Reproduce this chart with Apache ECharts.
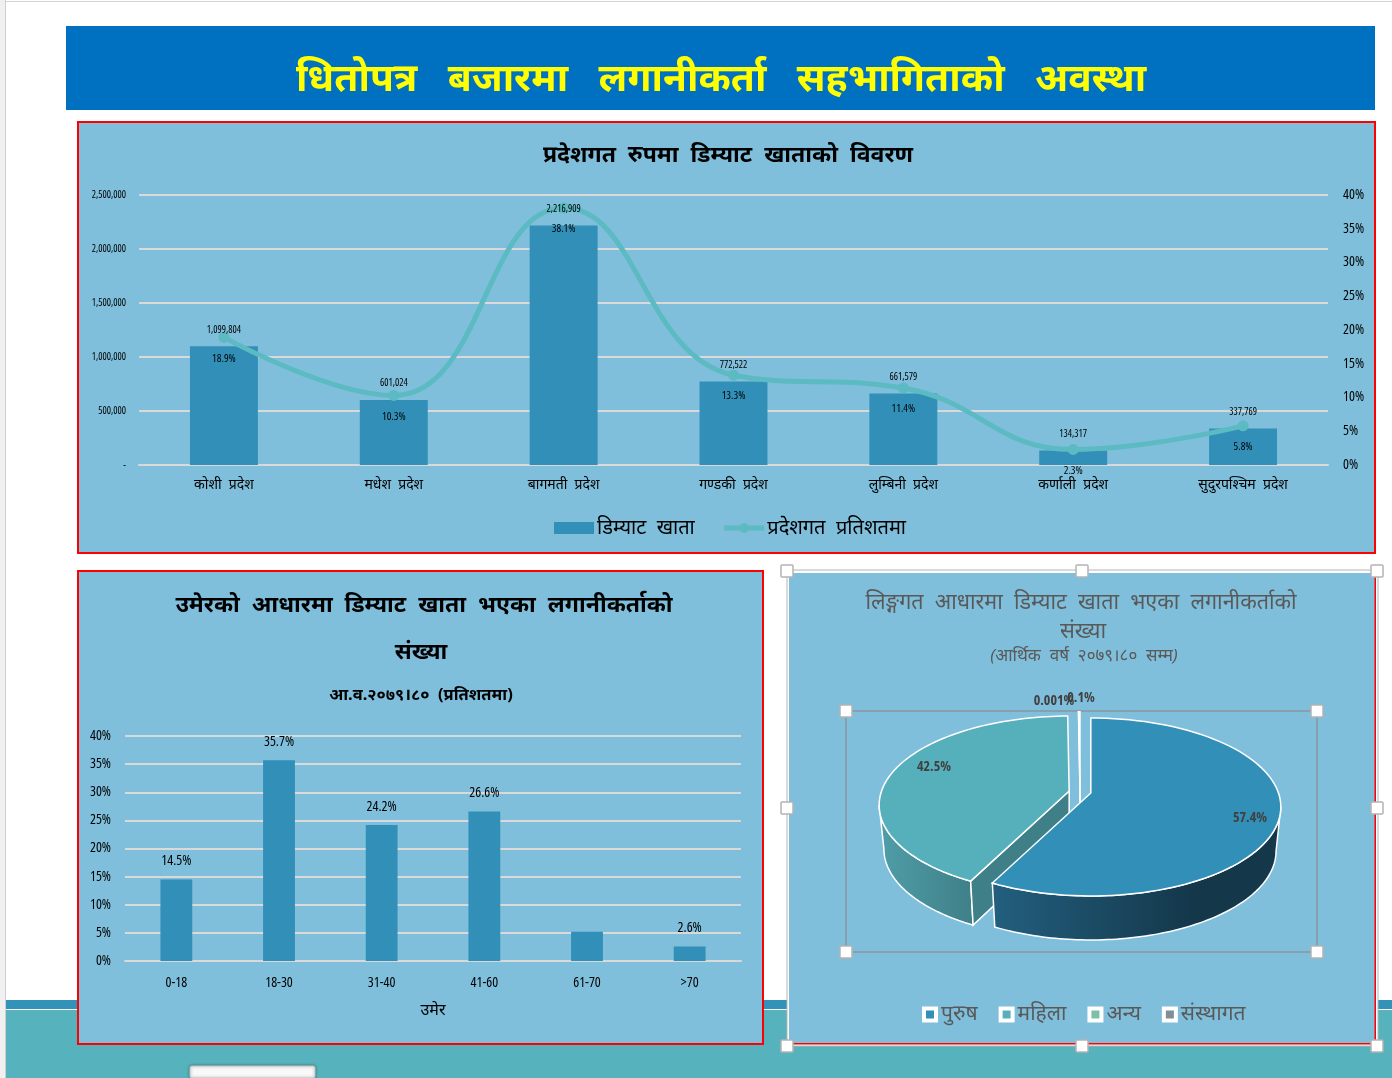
<!DOCTYPE html>
<html>
<head>
<meta charset="utf-8">
<style>html,body{margin:0;padding:0;background:#fff;overflow:hidden}#main{width:1392px;height:1078px}</style>
<script src="https://cdn.jsdelivr.net/npm/echarts@6/dist/echarts.min.js"></script>
</head>
<body>
<div id="main"></div>
<script>
// 3 charts of the slide, all in one echarts instance
var provinces = ['कोशी प्रदेश','मधेश प्रदेश','बागमती प्रदेश','गण्डकी प्रदेश','लुम्बिनी प्रदेश','कर्णाली प्रदेश','सुदुरपश्चिम प्रदेश'];
var demat = [1099804,601024,2216909,772522,661579,134317,337769];
var provincePct = [18.9,10.3,38.1,13.3,11.4,2.3,5.8];
var ageGroups = ['0-18','18-30','31-40','41-60','61-70','>70'];
var agePct = [14.5,35.7,24.2,26.6,5.2,2.6];
var genders = ['पुरुष','महिला','अन्य','संस्थागत'];
var genderPct = [57.4,42.5,0.001,0.1];
var genderLabels = ['57.4%','42.5%','0.001%','0.1%'];
var genderColors = ['#318fb8','#56b0bc','#7dbfa8','#7f8f96'];

var FONT = '"Noto Sans","Noto Sans Devanagari",sans-serif';
var NARROW = '"Open Sans","Liberation Sans",sans-serif';
var SQUEEZE = 'extra-condensed';  // goes into the canvas font string through fontStyle
var BG = '#7fbfdb', GRID = '#d9d9d9';

var myChart = echarts.init(document.getElementById('main'));

function rect(x,y,w,h,fill,stroke,lw,z){
    return {type:'rect',silent:true,z:z||0,shape:{x:x,y:y,width:w,height:h},
        style:{fill:fill||'transparent',stroke:stroke||null,lineWidth:lw||0}};
}
function handle(x,y){
    return {type:'rect',silent:true,z:20,shape:{x:x-6,y:y-6,width:12,height:12,r:1},
        style:{fill:'#fff',stroke:'#b4b4b4',lineWidth:1.5}};
}
function titleItem(text,x,y,size,color,weight,style){
    return {text:text,left:x,top:y,textAlign:'center',textVerticalAlign:'middle',
        textStyle:{color:color,fontSize:size,fontWeight:weight,fontStyle:style||'normal',fontFamily:FONT}};
}
function narrowLabel(size,extra){
    var o = {color:'#000',fontSize:size,fontWeight:500,fontFamily:NARROW,fontStyle:SQUEEZE};
    for(var k in extra) o[k] = extra[k];
    return o;
}

// 3d pie: slices are worked out from genderPct, the view is only a tilted ellipse
var pie = {cx:1080,cy:806,rx:190,ry:89,apexUp:14,depth:44,narrow:0.975,explode:0.058};
var total = genderPct.reduce(function(a,b){return a+b;},0);
var drawOrder = [4,1,2,3];  // male slice has to be on top of the other inner walls

function warp(t){ return t + 0.1*Math.sin(2*t); }
function rimPoint(t,ox,oy,d){
    var k = d ? pie.narrow : 1;
    return [pie.cx+ox+pie.rx*k*Math.sin(t), pie.cy+oy+d-pie.ry*Math.cos(t)];
}
function sliceShapes(i){
    var before = 0;
    for(var j=0;j<i;j++) before += genderPct[j];
    var a0 = before/total*Math.PI*2, a1 = (before+genderPct[i])/total*Math.PI*2;
    var mid = warp((a0+a1)/2);
    var ox = pie.explode*pie.rx*Math.sin(mid), oy = -pie.explode*pie.ry*Math.cos(mid);
    var apex = [pie.cx+ox, pie.cy+oy-pie.apexUp];
    var t0 = warp(a0), t1 = warp(a1);
    var top = [apex], n = 90, p;
    for(p=0;p<=n;p++) top.push(rimPoint(t0+(t1-t0)*p/n,ox,oy,0));
    var children = [];
    // outer wall, only the part that looks to the front
    var from = Math.max(t0,Math.PI/2), to = Math.min(t1,Math.PI*1.5);
    if(to>from){
        var wall = [];
        for(p=0;p<=n;p++) wall.push(rimPoint(from+(to-from)*p/n,ox,oy,0));
        for(p=n;p>=0;p--) wall.push(rimPoint(from+(to-from)*p/n,ox,oy,pie.depth));
        var stops = i===0 ? [[0,'#235f7f'],[0.7,'#14374a'],[1,'#14374a']] : [[0,'#4f9ea8'],[1,'#3f7f88']];
        children.push({type:'polygon',shape:{points:wall},style:{
            fill:new echarts.graphic.LinearGradient(0,0,1,0,stops.map(function(s){return {offset:s[0],color:s[1]};})),
            stroke:'#fff',lineWidth:1.5}});
    }
    // inner wall of the female slice shows in the gap
    if(i===1){
        var tip = rimPoint(t0,ox,oy,0), tipLow = rimPoint(t0,ox,oy,pie.depth);
        children.push({type:'polygon',shape:{points:[tip,apex,[apex[0],apex[1]+pie.depth],tipLow]},
            style:{fill:'#3f7f88',stroke:'#fff',lineWidth:1.5}});
    }
    // the two tiny slices are only a white strip, it goes on down behind the male slice
    if(i>1){
        children.push({type:'line',shape:{x1:apex[0],y1:apex[1],x2:apex[0],y2:apex[1]+pie.depth},
            style:{stroke:'#fff',lineWidth:1.5}});
    }
    children.push({type:'polygon',shape:{points:top},style:{
        fill:i<2?genderColors[i]:'#cfe6f0',stroke:'#fff',lineWidth:1.5}});
    return children;
}
function pieSeries(name,i){
    return {
        name:name,type:'custom',coordinateSystem:'none',silent:true,z:drawOrder[i],
        itemStyle:{color:genderColors[i]},data:[genderPct[i]],
        renderItem:function(){ return {type:'group',children:sliceShapes(i)}; }
    };
}

var ageData = agePct.map(function(v,i){
    return i===4 ? {value:v,label:{show:false}} : v;
});

var option = {
    animation:false,
    backgroundColor:'#fff',
    textStyle:{fontFamily:FONT},
    graphic:[
        rect(0,0,5,1078,'#f0f0f0'),
        rect(5,0,1,1078,'#cfcfcf'),
        rect(6,1,1386,1,'#d4d4d4'),
        rect(6,1000,1386,9,'#3292b8'),
        rect(6,1009,1386,1,'#ffffff'),
        rect(6,1010,1386,68,'#56b2bc'),
        rect(66,26,1309,84,'#0070c0'),
        rect(78,122,1297,431,BG,'#ff0000',2),
        rect(78,571,685,473,BG,'#ff0000',2),
        rect(787,570,591,476,'#fff','#b4b4b4',1,1),
        rect(789,573,586,470,BG,null,0,1),
        rect(1374.5,573,1.5,472,'#ff0000',null,0,1),
        rect(789,1043,587,1.5,'#ff0000',null,0,1),
        rect(846,711,471,241,null,'#8a979e',1.5,1),
        handle(846,711),handle(1317,711),handle(846,952),handle(1317,952),
        handle(787,571),handle(1082,571),handle(1377,571),handle(787,808),handle(1377,808),
        handle(787,1046),handle(1082,1046),handle(1377,1046),
        {type:'rect',silent:true,z:2,shape:{x:190,y:1066,width:125,height:12,r:2},
            style:{fill:'#f8f8f8',stroke:'#c8c8c8',lineWidth:1,shadowBlur:3,shadowColor:'rgba(0,0,0,0.4)'}}
    ],
    title:[
        titleItem('धितोपत्र   बजारमा   लगानीकर्ता   सहभागिताको   अवस्था',716,75,39,'#ffff00','bold'),
        titleItem('प्रदेशगत  रुपमा  डिम्याट  खाताको  विवरण',723,150,23,'#000','bold'),
        titleItem('उमेरको  आधारमा  डिम्याट  खाता  भएका  लगानीकर्ताको',419,600,23,'#000','bold'),
        titleItem('संख्या',416,647,23,'#000','bold'),
        titleItem('आ.व.२०७९।८०  (प्रतिशतमा)',416,690,16.5,'#000','bold'),
        titleItem('लिङ्गगत  आधारमा  डिम्याट  खाता  भएका  लगानीकर्ताको',1076,598,21.5,'#595959','normal'),
        titleItem('संख्या',1078,627,22,'#595959','normal'),
        titleItem('(आर्थिक  वर्ष  २०७९।८०  सम्म)',1079,651,17,'#595959','normal','italic')
    ],
    legend:[
        {left:549,top:513,itemWidth:40,itemHeight:12,itemGap:27,
            data:[{name:'डिम्याट  खाता',icon:'rect'},{name:'प्रदेशगत  प्रतिशतमा'}],
            lineStyle:{width:5,color:'#5cbac2'},
            textStyle:{color:'#000',fontSize:20,fontFamily:FONT,padding:[8,0,0,-2]}},
        {left:917,top:999,itemWidth:12,itemHeight:12,itemGap:21,icon:'rect',
            data:genders,
            itemStyle:{borderColor:'#fff',borderWidth:4},
            textStyle:{color:'#595959',fontSize:21,fontFamily:FONT}}
    ],
    grid:[
        {left:139,right:1392-1328,top:195,height:270},
        {left:125,right:1392-741,top:736,height:225}
    ],
    xAxis:[
        {type:'category',gridIndex:0,data:provinces,
            axisTick:{show:false},axisLine:{lineStyle:{color:GRID,width:2}},
            axisLabel:{color:'#000',fontSize:14,margin:13,fontFamily:FONT,
                formatter:function(v){return v.replace(' ','  ');}}},
        {type:'category',gridIndex:1,data:ageGroups,name:'उमेर',nameLocation:'middle',nameGap:41,
            nameTextStyle:{color:'#000',fontSize:16,fontFamily:FONT},
            axisTick:{show:false},axisLine:{lineStyle:{color:GRID,width:2}},
            axisLabel:narrowLabel(14,{margin:15})}
    ],
    yAxis:[
        {type:'value',gridIndex:0,min:0,max:2500000,interval:500000,
            axisLine:{show:false},axisTick:{show:false},
            splitLine:{lineStyle:{color:GRID,width:2}},
            axisLabel:narrowLabel(10,{margin:13,
                formatter:function(v){return v===0?'-':v.toLocaleString('en-US');}})},
        {type:'value',gridIndex:0,position:'right',min:0,max:40,interval:5,
            axisLine:{show:false},axisTick:{show:false},splitLine:{show:false},
            axisLabel:narrowLabel(14,{margin:15,formatter:'{value}%'})},
        {type:'value',gridIndex:1,min:0,max:40,interval:5,
            axisLine:{show:false},axisTick:{show:false},
            splitLine:{lineStyle:{color:GRID,width:2}},
            axisLabel:narrowLabel(14,{margin:14,formatter:'{value}%'})}
    ],
    series:[
        {name:'डिम्याट  खाता',type:'bar',xAxisIndex:0,yAxisIndex:0,data:demat,barWidth:'40%',
            itemStyle:{color:'#318fb8'}},
        {name:'प्रदेशगत  प्रतिशतमा',type:'line',xAxisIndex:0,yAxisIndex:1,data:provincePct,smooth:0.45,
            symbol:'circle',symbolSize:11,
            lineStyle:{color:'#5cbac2',width:5},itemStyle:{color:'#5cbac2'},
            label:narrowLabel(11,{show:true,position:'bottom',distance:10,formatter:'{c}%'})},
        // count labels sit over the line, so they get their own invisible series on top of it
        {name:'counts',type:'line',xAxisIndex:0,yAxisIndex:0,data:demat,z:5,
            symbol:'circle',symbolSize:1,itemStyle:{color:'transparent'},lineStyle:{opacity:0},
            label:narrowLabel(10,{show:true,position:'top',distance:11,
                formatter:function(p){return p.value.toLocaleString('en-US');}})},
        {name:'उमेर',type:'bar',xAxisIndex:1,yAxisIndex:2,data:ageData,barWidth:'31%',
            itemStyle:{color:'#318fb8'},
            label:narrowLabel(14,{show:true,position:'top',distance:11,formatter:'{c}%'})}
    ].concat(genders.map(pieSeries)).concat([{
        // percent labels of the pie
        type:'custom',coordinateSystem:'none',silent:true,z:6,data:genderLabels,
        renderItem:function(params){
            var pos = [[1250,818],[934,767],[1054,701],[1081,698]][params.dataIndex];
            return {type:'text',x:pos[0],y:pos[1],style:{text:genderLabels[params.dataIndex],
                fill:'#404040',fontSize:14,fontWeight:'bold',fontStyle:SQUEEZE,fontFamily:NARROW,align:'center',verticalAlign:'middle'}};
        }
    }])
};
myChart.setOption(option);
</script>
</body>
</html>
